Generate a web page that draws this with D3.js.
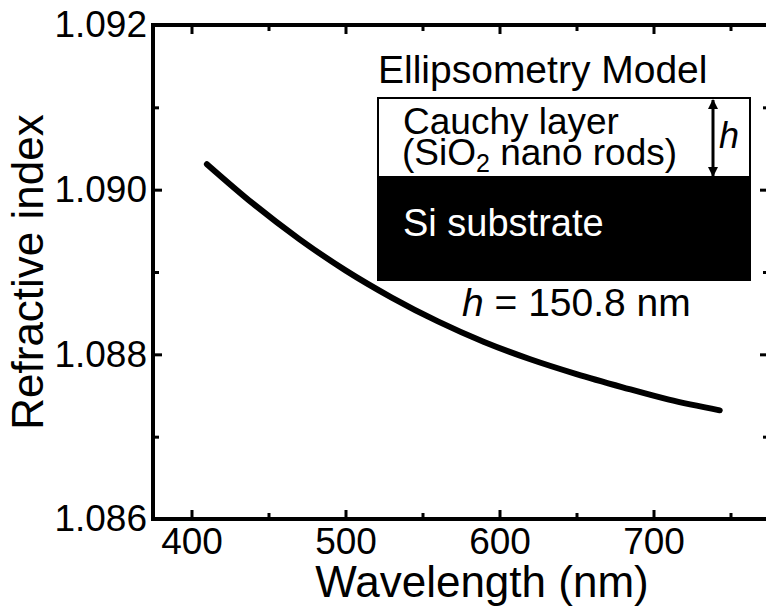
<!DOCTYPE html>
<html>
<head>
<meta charset="utf-8">
<script src="https://cdn.jsdelivr.net/npm/d3@7"></script>
<style>
  html, body { margin: 0; padding: 0; background: #fff; }
  svg { display: block; }
  text { font-family: "Liberation Sans", Arial, sans-serif; fill: #000; }
</style>
</head>
<body>
<svg id="chart" width="766" height="612"></svg>
<script>
// ---- data ----
const wavelength = [410, 440, 470, 500, 530, 560, 590, 620, 650, 680, 710, 743];
const refractiveIndex = [1.09031, 1.08983, 1.08940, 1.08902, 1.08869, 1.08840, 1.08815, 1.08794, 1.08776, 1.08760, 1.08745, 1.08732];
const xMajorTicks = [400, 500, 600, 700];
const xMinorTicks = [450, 550, 650, 750];
const yMajorTicks = [1.086, 1.088, 1.090, 1.092];
const yMinorTicks = [1.087, 1.089, 1.091];
const xDomain = [375, 775];
const yDomain = [1.086, 1.092];
const xTitle = "Wavelength (nm)";
const yTitle = "Refractive index";

// ---- layout ----
const svg = d3.select("#chart");
const L = 153, R = 769, T = 25, B = 519;
const x = d3.scaleLinear().domain(xDomain).range([L, R]);
const y = d3.scaleLinear().domain(yDomain).range([B, T]);
const FONT = 37;

function styleAxis(g) {
  g.select(".domain").remove();
  g.selectAll(".tick line").attr("stroke", "#000").attr("stroke-width", 3);
  g.selectAll(".tick text").attr("font-size", FONT).attr("font-family", '"Liberation Sans", Arial, sans-serif').attr("fill", "#000");
}

// bottom
svg.append("g").attr("transform", `translate(0,${B})`)
  .call(d3.axisBottom(x).tickValues(xMajorTicks).tickSizeInner(-9).tickSizeOuter(0).tickPadding(9).tickFormat(d3.format("d")))
  .call(styleAxis);
svg.append("g").attr("transform", `translate(0,${B})`)
  .call(d3.axisBottom(x).tickValues(xMinorTicks).tickSizeInner(-6).tickSizeOuter(0).tickFormat(""))
  .call(styleAxis);
// top
svg.append("g").attr("transform", `translate(0,${T})`)
  .call(d3.axisTop(x).tickValues(xMajorTicks).tickSizeInner(-9).tickSizeOuter(0).tickFormat(""))
  .call(styleAxis);
svg.append("g").attr("transform", `translate(0,${T})`)
  .call(d3.axisTop(x).tickValues(xMinorTicks).tickSizeInner(-6).tickSizeOuter(0).tickFormat(""))
  .call(styleAxis);
// left
svg.append("g").attr("transform", `translate(${L},0)`)
  .call(d3.axisLeft(y).tickValues(yMajorTicks).tickSizeInner(-9).tickSizeOuter(0).tickPadding(6).tickFormat(d3.format(".3f")))
  .call(styleAxis);
svg.append("g").attr("transform", `translate(${L},0)`)
  .call(d3.axisLeft(y).tickValues(yMinorTicks).tickSizeInner(-6).tickSizeOuter(0).tickFormat(""))
  .call(styleAxis);
// right
svg.append("g").attr("transform", `translate(${R},0)`)
  .call(d3.axisRight(y).tickValues(yMajorTicks).tickSizeInner(-9).tickSizeOuter(0).tickFormat(""))
  .call(styleAxis);
svg.append("g").attr("transform", `translate(${R},0)`)
  .call(d3.axisRight(y).tickValues(yMinorTicks).tickSizeInner(-6).tickSizeOuter(0).tickFormat(""))
  .call(styleAxis);

// frame
svg.append("rect").attr("x", L).attr("y", T).attr("width", R - L).attr("height", B - T)
  .attr("fill", "none").attr("stroke", "#000").attr("stroke-width", 4);

// titles
svg.append("text").attr("x", 482).attr("y", 597).attr("text-anchor", "middle")
  .attr("font-size", 44).text(xTitle);
svg.append("text").attr("transform", "translate(43,272) rotate(-90)").attr("text-anchor", "middle")
  .attr("font-size", 44).text(yTitle);

// curve
const pts = wavelength.map((w, i) => [w, refractiveIndex[i]]);
svg.append("path").datum(pts)
  .attr("d", d3.line().x(d => x(d[0])).y(d => y(d[1])).curve(d3.curveMonotoneX))
  .attr("fill", "none").attr("stroke", "#000").attr("stroke-width", 6)
  .attr("stroke-linecap", "round").attr("stroke-linejoin", "round");

// inset: ellipsometry model
const ins = svg.append("g");
ins.append("text").attr("x", 378).attr("y", 83).attr("font-size", 39).text("Ellipsometry Model");
ins.append("rect").attr("x", 378).attr("y", 98).attr("width", 372).attr("height", 79)
  .attr("fill", "#fff").attr("stroke", "#000").attr("stroke-width", 2);
ins.append("rect").attr("x", 377).attr("y", 177).attr("width", 374).attr("height", 104)
  .attr("fill", "#000");
ins.append("text").attr("x", 403).attr("y", 134).attr("font-size", 37).text("Cauchy layer");
const t2 = ins.append("text").attr("x", 402).attr("y", 165).attr("font-size", 37);
t2.append("tspan").text("(SiO");
t2.append("tspan").attr("font-size", 25).attr("dy", 7).text("2");
t2.append("tspan").attr("dy", -7).text(" nano rods)");
ins.append("text").attr("x", 403).attr("y", 236).attr("font-size", 38)
  .style("fill", "#fff").text("Si substrate");

// thickness arrow
const defs = svg.append("defs");
defs.append("marker").attr("id", "ah").attr("viewBox", "0 0 10 10").attr("refX", 9).attr("refY", 5)
  .attr("markerWidth", 3.5).attr("markerHeight", 5).attr("orient", "auto-start-reverse")
  .attr("markerUnits", "strokeWidth")
  .append("path").attr("d", "M0,0 L10,5 L0,10 z").attr("fill", "#000");
ins.append("line").attr("x1", 713).attr("x2", 713).attr("y1", 100).attr("y2", 176)
  .attr("stroke", "#000").attr("stroke-width", 3)
  .attr("marker-start", "url(#ah)").attr("marker-end", "url(#ah)");
ins.append("text").attr("x", 719).attr("y", 148).attr("font-size", 36)
  .attr("font-style", "italic").text("h");

const t3 = ins.append("text").attr("x", 462).attr("y", 316).attr("font-size", 39);
t3.append("tspan").attr("font-style", "italic").text("h");
t3.append("tspan").text(" = 150.8 nm");
</script>
</body>
</html>
